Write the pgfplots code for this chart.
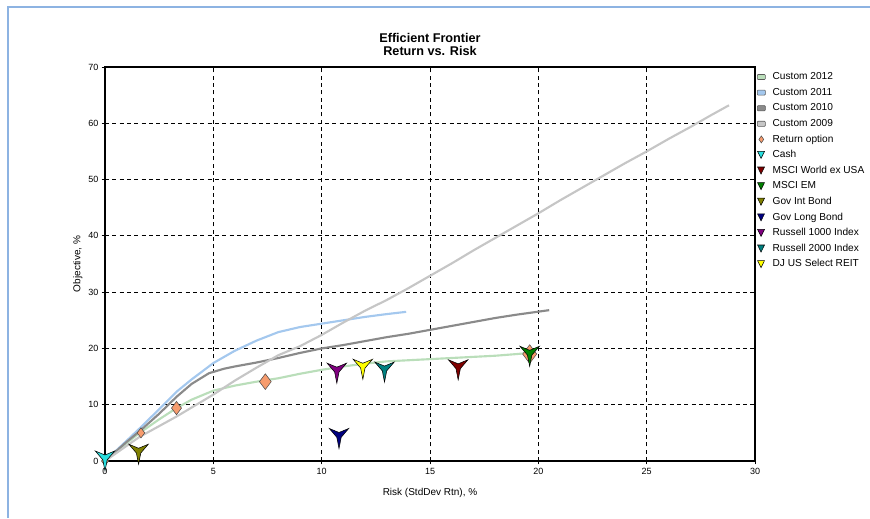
\documentclass[border=0pt]{standalone}
\usepackage{fontspec}
\setmainfont{Liberation Sans}
\usepackage{pgfplots}
\pgfplotsset{compat=1.18}
\definecolor{c2012}{RGB}{186,222,186}
\definecolor{c2011}{RGB}{164,200,238}
\definecolor{c2010}{RGB}{138,138,138}
\definecolor{c2009}{RGB}{198,198,198}
\definecolor{cret}{RGB}{247,156,110}
\definecolor{ccash}{RGB}{40,222,222}
\definecolor{cmsciw}{RGB}{128,0,0}
\definecolor{cmsciem}{RGB}{0,128,0}
\definecolor{cgovint}{RGB}{128,128,0}
\definecolor{cgovlong}{RGB}{0,0,128}
\definecolor{crus1}{RGB}{128,0,128}
\definecolor{crus2}{RGB}{0,128,128}
\definecolor{creit}{RGB}{255,255,0}
\definecolor{framecol}{RGB}{141,179,226}
\pgfdeclareplotmark{ystar}{%
  \pgfpathmoveto{\pgfqpoint{0pt}{-1\pgfplotmarksize}}%
  \pgfpathlineto{\pgfqpoint{0.22\pgfplotmarksize}{0.12\pgfplotmarksize}}%
  \pgfpathlineto{\pgfqpoint{0.97\pgfplotmarksize}{1\pgfplotmarksize}}%
  \pgfpathlineto{\pgfqpoint{0pt}{0.6\pgfplotmarksize}}%
  \pgfpathlineto{\pgfqpoint{-0.97\pgfplotmarksize}{1\pgfplotmarksize}}%
  \pgfpathlineto{\pgfqpoint{-0.22\pgfplotmarksize}{0.12\pgfplotmarksize}}%
  \pgfpathclose
  \pgfusepathqfillstroke}
\newcommand{\lgrect}[1]{\draw[fill=#1,draw=black!65,line width=0.45pt,rounded corners=0.6pt] (0pt,-1.9pt) rectangle (6pt,1.9pt);}
\newcommand{\lgtri}[1]{\draw[fill=#1,draw=black,line width=0.4pt] (0.2pt,2.7pt) -- (5.4pt,2.7pt) -- (2.8pt,-2.6pt) -- cycle;}
\pgfplotsset{
  star/.style={only marks, mark=ystar, mark size=7.5pt, mark options={fill=#1, draw=black, line width=0.4pt},
    legend image code/.code={\lgtri{#1}}},
  frontier/.style={no marks, color=#1, line width=1.6pt,
    legend image code/.code={\lgrect{#1}}},
  retopt/.style={only marks, mark=diamond*, mark size=#1, mark options={fill=cret, draw=black!70, line width=0.4pt},
    legend image code/.code={\draw[fill=cret,draw=black!70,line width=0.4pt] (3pt,-2.6pt) -- (4.8pt,0pt) -- (3pt,2.6pt) -- (1.2pt,0pt) -- cycle;}},
}
\begin{document}
\begin{tikzpicture}
\useasboundingbox (0,0) rectangle (652.5pt,388.5pt);
\draw[color=framecol, line width=1pt] (6pt,0pt) -- (6pt,383.25pt) -- (652.5pt,383.25pt);
\begin{axis}[
  at={(78.75pt,42.75pt)}, anchor=south west,
  scale only axis, width=487.5pt, height=295.5pt,
  xmin=0, xmax=30, ymin=0, ymax=70,
  xtick={0,5,...,30}, ytick={0,10,...,70},
  xtick pos=left, ytick pos=left,
  grid=major, grid style={black, line width=0.65pt, dash pattern=on 3pt off 2.5pt},
  axis line style={black, line width=0.8pt},
  tick align=outside, major tick length=2.5pt, tick style={black, line width=0.6pt},
  /pgf/number format/assume math mode=true,
  tick label style={font=\fontsize{6.75}{8}\selectfont},
  xticklabel style={yshift=0.5pt},
  yticklabel style={xshift=1pt},
  clip=false,
  title={Efficient Frontier\\Return vs. Risk},
  title style={at={(axis description cs:0.5,1)}, anchor=base, yshift=2.5pt, align=center,
    font=\bfseries\fontsize{9.5}{9.8}\selectfont},
  xlabel={Risk (StdDev Rtn), \%},
  xlabel style={at={(axis description cs:0.5,0)}, anchor=base, yshift=-25.5pt, font=\fontsize{7.5}{9}\selectfont},
  ylabel={Objective, \%},
  ylabel style={at={(axis description cs:-0.038,0.5)}, anchor=base, font=\fontsize{7.5}{9}\selectfont},
  legend cell align=left,
  legend style={at={(axis description cs:1,1)}, anchor=north west, xshift=1.5pt, yshift=-4pt,
    draw=none, fill=none, inner sep=0pt, outer sep=0pt, column sep=5.3pt, row sep=4.7pt,
    font=\fontsize{7.6}{9}\selectfont,
    nodes={inner sep=0pt, text height=5.5pt, text depth=1.5pt}},
]
% Custom 2012
\addplot[frontier=c2012] coordinates {
(0,0) (0.5,1.6) (1,3.2) (1.6,5.0) (2.5,7.4) (3.3,9.4) (4,10.9) (5,12.5) (6,13.4) (7,14.1) (8,14.7)
(9,15.5) (10,16.2) (11,16.8) (12,17.3) (13,17.7) (14,17.9) (15,18.1) (16,18.3) (17,18.5) (18,18.7) (19,19.0) (19.6,19.2)};
\addlegendentry{Custom 2012}
% Custom 2011
\addplot[frontier=c2011] coordinates {
(0,0) (0.5,1.8) (1,3.6) (1.6,5.8) (2.5,9.2) (3.3,12.3) (4,14.5) (5,17.4) (6,19.6) (7,21.4) (8,22.9)
(9,23.8) (10,24.4) (11,25.0) (12,25.6) (13,26.1) (13.9,26.5)};
\addlegendentry{Custom 2011}
% Custom 2010
\addplot[frontier=c2010] coordinates {
(0,0) (0.5,1.7) (1,3.4) (1.6,5.3) (2.5,8.4) (3.3,11.4) (4,13.7) (4.8,15.6) (5.5,16.4) (6,16.8) (7,17.5)
(8,18.3) (9,19.2) (10,20.0) (11,20.6) (12,21.3) (13,22.0) (14,22.6) (15,23.3) (16,24.0) (17,24.7)
(18,25.4) (19,26.0) (20.5,26.8)};
\addlegendentry{Custom 2010}
% Custom 2009
\addplot[frontier=c2009] coordinates {
(0,0) (1,2.7) (1.6,4.3) (2.5,6.2) (3.3,7.9) (4,9.5) (5,11.8) (6,14.3) (7,16.6) (8,18.8) (9,20.4)
(10,22.4) (11,24.6) (12,26.7) (13,28.6) (14,30.7) (15,32.9) (16,35.1) (17,37.4) (18,39.6) (19,41.8)
(20,44.0) (21,46.3) (22,48.5) (23,50.7) (24,52.9) (25,55.0) (26,57.2) (27,59.3) (28,61.5) (28.8,63.2)};
\addlegendentry{Custom 2009}
% Return option
\addplot[retopt=3.5pt] coordinates {(0,0)};
\addlegendentry{Return option}
\addplot[retopt=3.8pt, forget plot] coordinates {(1.66,5.0)};
\addplot[retopt=5pt, forget plot] coordinates {(3.3,9.4)};
\addplot[retopt=5.9pt, forget plot] coordinates {(7.4,14.1)};
\addplot[retopt=7pt, forget plot] coordinates {(19.6,19.0)};
% Assets
\addplot[star=ccash] coordinates {(0,0)};
\addlegendentry{Cash}
\addplot[star=cmsciw] coordinates {(16.3,16.2)};
\addlegendentry{MSCI World ex USA}
\addplot[star=cmsciem] coordinates {(19.6,18.6)};
\addlegendentry{MSCI EM}
\addplot[star=cgovint] coordinates {(1.55,1.2)};
\addlegendentry{Gov Int Bond}
\addplot[star=cgovlong] coordinates {(10.8,4.0)};
\addlegendentry{Gov Long Bond}
\addplot[star=crus1] coordinates {(10.7,15.6)};
\addlegendentry{Russell 1000 Index}
\addplot[star=crus2] coordinates {(12.9,15.8)};
\addlegendentry{Russell 2000 Index}
\addplot[star=creit] coordinates {(11.9,16.3)};
\addlegendentry{DJ US Select REIT}
\end{axis}
\end{tikzpicture}
\end{document}
